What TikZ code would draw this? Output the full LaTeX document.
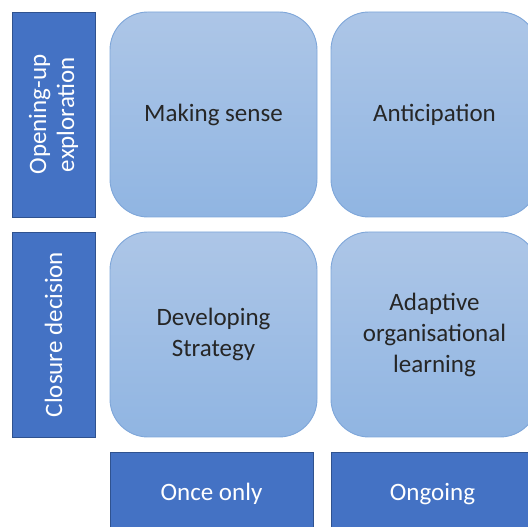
\documentclass[tikz,border=0pt]{standalone}
\usepackage{fontspec}
\setmainfont{Carlito}
\begin{document}
\begin{tikzpicture}[x=1pt,y=1pt,
  bar/.style={draw=barborder, fill=barblue, line width=0.8pt, text=white, font=\fontsize{25}{30}\selectfont, align=center, inner sep=0pt},
  cell/.style={draw=cellborder, line width=0.9pt, rounded corners=38pt, top color=celltop, bottom color=cellbot, text=black!85, font=\fontsize{25}{31}\selectfont, align=center, inner sep=0pt}]
\definecolor{barblue}{HTML}{4472C4}
\definecolor{barborder}{HTML}{2F528F}
\definecolor{cellborder}{HTML}{7EA6D9}
\definecolor{celltop}{HTML}{ADC6E7}
\definecolor{cellbot}{HTML}{90B5E2}
\useasboundingbox (0,0) rectangle (528,527);
\clip (0,0) rectangle (528,527);
% left bars
\node[bar, minimum width=83pt, minimum height=205pt] (r1) at (53.5,412.5) {};
\node[rotate=90, text=white, font=\fontsize{25}{28}\selectfont, align=center] (r1t) at (r1.center) {Opening-up\\exploration};
\node[bar, minimum width=83pt, minimum height=205pt] (r2) at (53.5,192.5) {};
\node[rotate=90, text=white, font=\fontsize{25}{28}\selectfont, align=center] (r2t) at (r2.center) {Closure decision};
% cells
\node[cell, minimum width=207pt, minimum height=205pt] (c11) at (213.5,412.5) {Making sense};
\node[cell, minimum width=207pt, minimum height=205pt] (c12) at (434.5,412.5) {Anticipation};
\node[cell, minimum width=207pt, minimum height=205pt] (c21) at (213.5,192.5) {Developing\\Strategy};
\node[cell, minimum width=207pt, minimum height=205pt] (c22) at (434.5,192.5) {Adaptive\\organisational\\learning};
% bottom bars
\node[bar, minimum width=203pt, minimum height=84pt] (b1) at (211.5,33) {Once only};
\node[bar, minimum width=203pt, minimum height=84pt] (b2) at (432.5,33) {Ongoing};
\end{tikzpicture}
\end{document}
